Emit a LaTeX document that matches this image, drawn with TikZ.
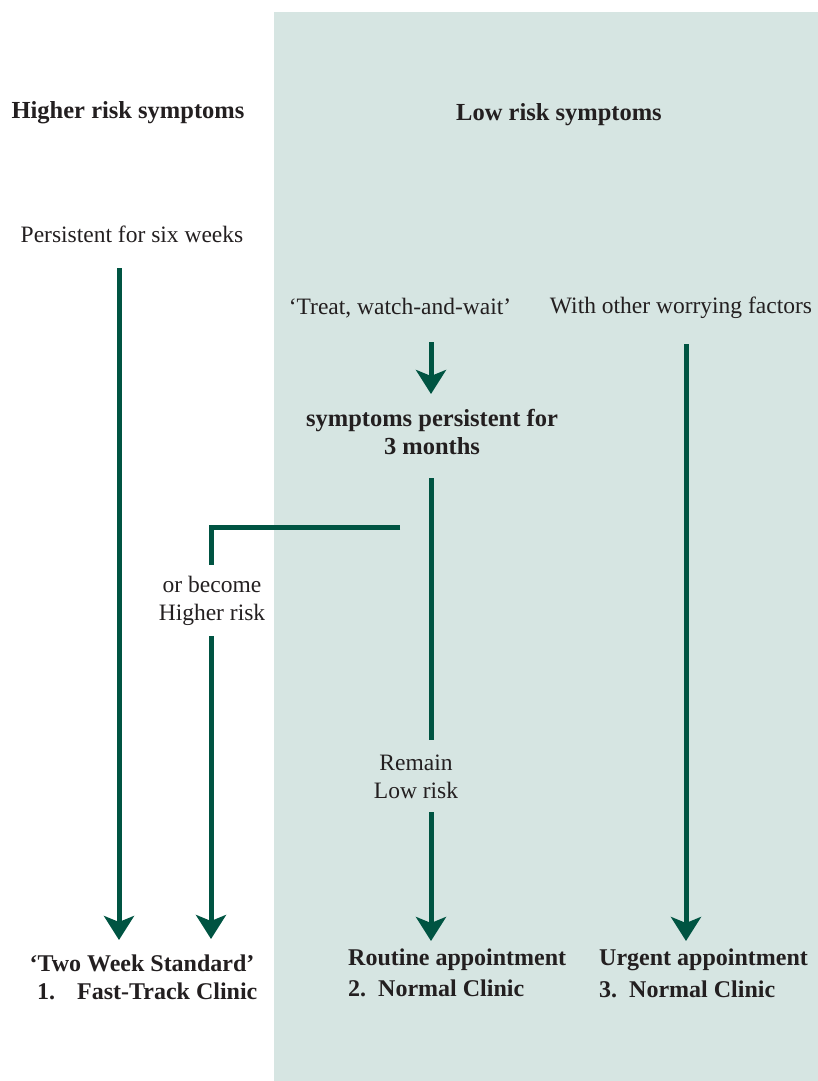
\documentclass[tikz,border=0pt]{standalone}
\usepackage{fontspec}
\setmainfont{Liberation Serif}
\usetikzlibrary{arrows.meta}
\definecolor{panel}{RGB}{214,229,226}
\definecolor{dgreen}{RGB}{0,84,66}
\definecolor{ink}{RGB}{35,31,32}
\tikzset{
  lbl/.style={text=ink, font=\fontsize{23.5}{28}\selectfont, inner sep=0pt, align=center},
  hdr/.style={text=ink, font=\fontsize{24.5}{28}\selectfont\bfseries, inner sep=0pt, align=center},
  btm/.style={text=ink, font=\fontsize{24}{28}\selectfont\bfseries, inner sep=0pt, align=left, anchor=west},
  ln/.style={draw=dgreen, line width=5pt},
  arr/.style={ln, -{Stealth[length=24pt, width=30pt, inset=6pt]}}
}
\begin{document}
\begin{tikzpicture}[x=1pt,y=-1pt]
\useasboundingbox (0,0) rectangle (818,1081);
\fill[panel] (274,12) rectangle (818,1081);
% headers
\node[hdr] (hi) at (128,113) {Higher risk symptoms};
\node[hdr] (lo) at (559,115) {Low risk symptoms};
% labels
\node[lbl] (six) at (132,234) {Persistent for six weeks};
\node[lbl] (treat) at (400,308) {`Treat, watch-and-wait'};
\node[lbl] (other) at (681,308) {With other worrying factors};
\node[hdr] (three) at (432,432) {symptoms persistent for\\3 months};
\node[lbl] (become) at (212,601) {or become\\Higher risk};
\node[lbl] (remain) at (416,777) {Remain\\Low risk};
% bottom
\node[btm, anchor=center] (two) at (142,963) {`Two Week Standard'};
\node[btm] (fast) at (37,991) {1.\hspace{22pt}Fast-Track Clinic};
\node[btm] (routine) at (348,960) {Routine appointment};
\node[btm] (normal2) at (348,988) {2.\hspace{12pt}Normal Clinic};
\node[btm] (urgent) at (599,960) {Urgent appointment};
\node[btm] (normal3) at (599,989) {3.\hspace{12pt}Normal Clinic};
% connector coordinates
\coordinate (a1s) at (119,268);
\coordinate (a1e) at (119,940);
\coordinate (a2s) at (431,342);
\coordinate (a2e) at (431,394);
\coordinate (a3s) at (431,478);
\coordinate (a3m) at (431,740);
\coordinate (a3r) at (431,812);
\coordinate (a3e) at (431,941);
\coordinate (b1) at (400,527);
\coordinate (b2) at (211,527);
\coordinate (b3) at (211,565);
\coordinate (b4) at (211,636);
\coordinate (b5) at (211,939);
\coordinate (a4s) at (686,344);
\coordinate (a4e) at (686,941);
% connectors
\draw[arr] (a1s) -- (a1e);
\draw[arr] (a2s) -- (a2e);
\draw[ln] (a3s) -- (a3m);
\draw[arr] (a3r) -- (a3e);
\draw[ln, line cap=butt] (b1) -- (b2) -- (b3);
\draw[arr] (b4) -- (b5);
\draw[arr] (a4s) -- (a4e);
\end{tikzpicture}
\end{document}
